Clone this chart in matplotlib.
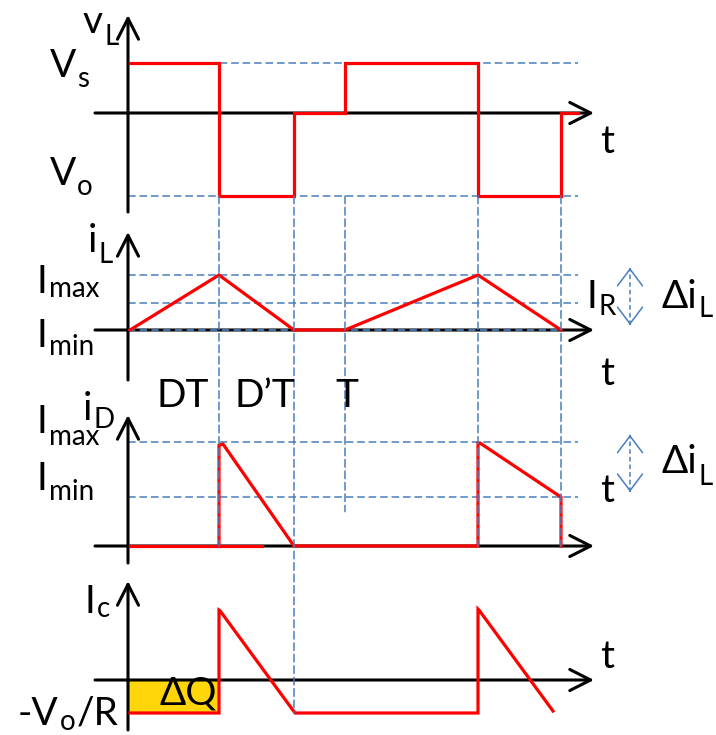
import matplotlib
matplotlib.use('Agg')
import matplotlib.pyplot as plt
from matplotlib.patches import ConnectionPatch

plt.rcParams['font.family'] = ['Lato', 'DejaVu Sans']

# switching instants on the common time axis
t_dt1, t_dpt1, t_T, t_dt2, t_dpt2 = 91, 166, 217, 350, 433
t_end = 450

# inductor voltage (Vs = 1, Vo = -1.66)
V_s, V_o = 1.0, -1.66
vL_t = [2, 91, 91, 166, 166, 217, 217, 350, 350, 433, 433, 450]
vL = [1, 1, -1.66, -1.66, 0, 0, 1, 1, -1.66, -1.66, 0, 0]

# inductor current
I_max, I_R = 1.0, 0.5
iL_t = [2, 91, 166, 217, 350, 433]
iL = [0, 1, 0, 0, 1, 0]

# diode current
I_max_D, I_min_D = 1.0, 0.47
iD_base_t = [2, 134]
iD_base = [0, 0]
iD1_t = [91, 91, 95, 166]
iD1 = [0, 0.97, 0.98, 0]
iD2_t = [166, 350, 350, 352, 433, 433]
iD2 = [0, 0, 0.99, 0.99, 0.47, 0]

# capacitor current (-Vo/R = -1)
I_load = -1.0
ic_t = [2, 91, 91, 92, 167, 350, 350, 351, 425]
ic = [-1, -1, 2.12, 2.1, -1, -1, 2.15, 2.12, -0.94]

W, H = 716, 735
RED = '#FF0000'
BLUE = '#4A7EBB'
YEL = '#FFD60A'
FS, FS_SUB = 28, 20

fig = plt.figure(figsize=(W / 100, H / 100), dpi=100)

# one transparent full-size axes per panel: (zero line pixel, px per unit)
panels = [(113, 50), (330, 55), (546, 104), (680, 33)]
axs = []
for z, s in panels:
    ax = fig.add_axes([0, 0, 1, 1])
    ax.set_xlim(-128, W - 128)
    ax.set_ylim(-(H - z) / s, z / s)
    ax.axis('off')
    ax.patch.set_alpha(0)
    axs.append(ax)
ax1, ax2, ax3, ax4 = axs


def arrow(ax, p0, p1, color='k', lw=2.2, hl=0.75, hw=0.38, z=3):
    ax.annotate('', xy=p1, xytext=p0, annotation_clip=False,
                arrowprops=dict(arrowstyle='->,head_length=%s,head_width=%s' % (hl, hw),
                                color=color, lw=lw, shrinkA=0, shrinkB=0,
                                mutation_scale=20, zorder=z))


def axes_lines(ax, z, s, top, bottom):
    # horizontal time axis and vertical arrow, given in pixels
    arrow(ax, (-33, 0), (466, 0))
    arrow(ax, (0, (z - bottom) / s), (0, (z - top) / s))


axes_lines(ax1, 113, 50, 15, 212)
axes_lines(ax2, 330, 55, 232, 380)
axes_lines(ax3, 546, 104, 415, 563)
axes_lines(ax4, 680, 33, 581, 730)

dash = dict(color=BLUE, lw=1.1, dashes=(5, 2.5), zorder=2)
# horizontal guides
ax1.plot([0, t_end], [V_s, V_s], **dash)
ax1.plot([0, t_end], [V_o, V_o], **dash)
ax2.plot([0, t_end], [I_max, I_max], **dash)
ax2.plot([0, t_end], [I_R, I_R], **dash)
ax2.plot([0, t_dpt2], [0, 0], color=BLUE, lw=1.3, dashes=(4, 2.5), zorder=4)
ax3.plot([0, t_end], [I_max_D, I_max_D], **dash)
ax3.plot([0, t_end], [I_min_D, I_min_D], **dash)

# vertical guides running across panels
guides = [(t_dt1, ax3, 0), (t_dpt1, ax4, I_load), (t_T, ax3, 0.33),
          (t_dt2, ax3, 0), (t_dpt2, ax3, 0)]
for t, axb, vb in guides:
    cp = ConnectionPatch(xyA=(t, V_o), coordsA=ax1.transData,
                         xyB=(t, vb), coordsB=axb.transData,
                         color=BLUE, lw=1.1, linestyle=(0, (5, 2.5)), zorder=2)
    fig.add_artist(cp)

# waveforms
red = dict(color=RED, lw=2.3, zorder=5, solid_joinstyle='miter')
ax1.plot(vL_t, vL, **red)
ax2.plot(iL_t, iL, **red)
ax3.plot(iD_base_t, iD_base, **red)
ax3.plot(iD1_t, iD1, **red)
ax3.plot(iD2_t, iD2, **red)
ax4.plot(ic_t, ic, **red)
ax4.fill_between([0, t_dt1], [I_load, I_load], [0, 0], color=YEL, lw=0, zorder=1)

# delta-i double arrows
for ax, lo, hi in [(ax2, 0.09, 1.13), (ax3, 0.52, 1.07)]:
    ax.plot([502, 502], [lo, hi], color=BLUE, lw=1.1, dashes=(3, 2))
    d = (hi - lo) * 0.02
    arrow(ax, (502, hi - d), (502, hi), color=BLUE, lw=1.1, hl=0.6, hw=0.45)
    arrow(ax, (502, lo + d), (502, lo), color=BLUE, lw=1.1, hl=0.6, hw=0.45)

renderer = fig.canvas.get_renderer()


def label(x, y, main, sub='', dy=10, tail=''):
    t = fig.text(x / W, 1 - y / H, main, fontsize=FS, va='baseline', ha='left')
    if sub:
        bb = t.get_window_extent(renderer)
        s = fig.text((bb.x1 + 1) / W, 1 - (y + dy) / H, sub, fontsize=FS_SUB,
                     va='baseline', ha='left')
        if tail:
            bb2 = s.get_window_extent(renderer)
            fig.text((bb2.x1 + 1) / W, 1 - y / H, tail, fontsize=FS,
                     va='baseline', ha='left')


label(83, 33, 'v', 'L', dy=12)
label(50, 77, 'V', 's', dy=10)
label(50, 185, 'V', 'o', dy=10)
label(600, 153, 't')

label(88, 252, 'i', 'L', dy=11)
label(37, 293, 'I', 'max', dy=4)
label(37, 347, 'I', 'min', dy=8)
label(157, 407, 'DT')
label(235, 407, 'D\u2019T')
label(335, 407, 'T')
label(600, 385, 't')
label(587, 308, 'I', 'R', dy=7)
label(662, 308, '\u0394i', 'L', dy=9)

label(37, 433, 'I', 'max', dy=12)
label(83, 420, 'i', 'D', dy=8)
label(37, 490, 'I', 'min', dy=10)
label(600, 502, 't')
label(662, 473, '\u0394i', 'L', dy=12)

label(85, 613, 'I', 'c', dy=4)
label(18, 725, '-V', 'o', dy=5, tail='/R')
label(160, 705, '\u0394Q')
label(600, 668, 't')

fig.savefig('out.png', dpi=100)
